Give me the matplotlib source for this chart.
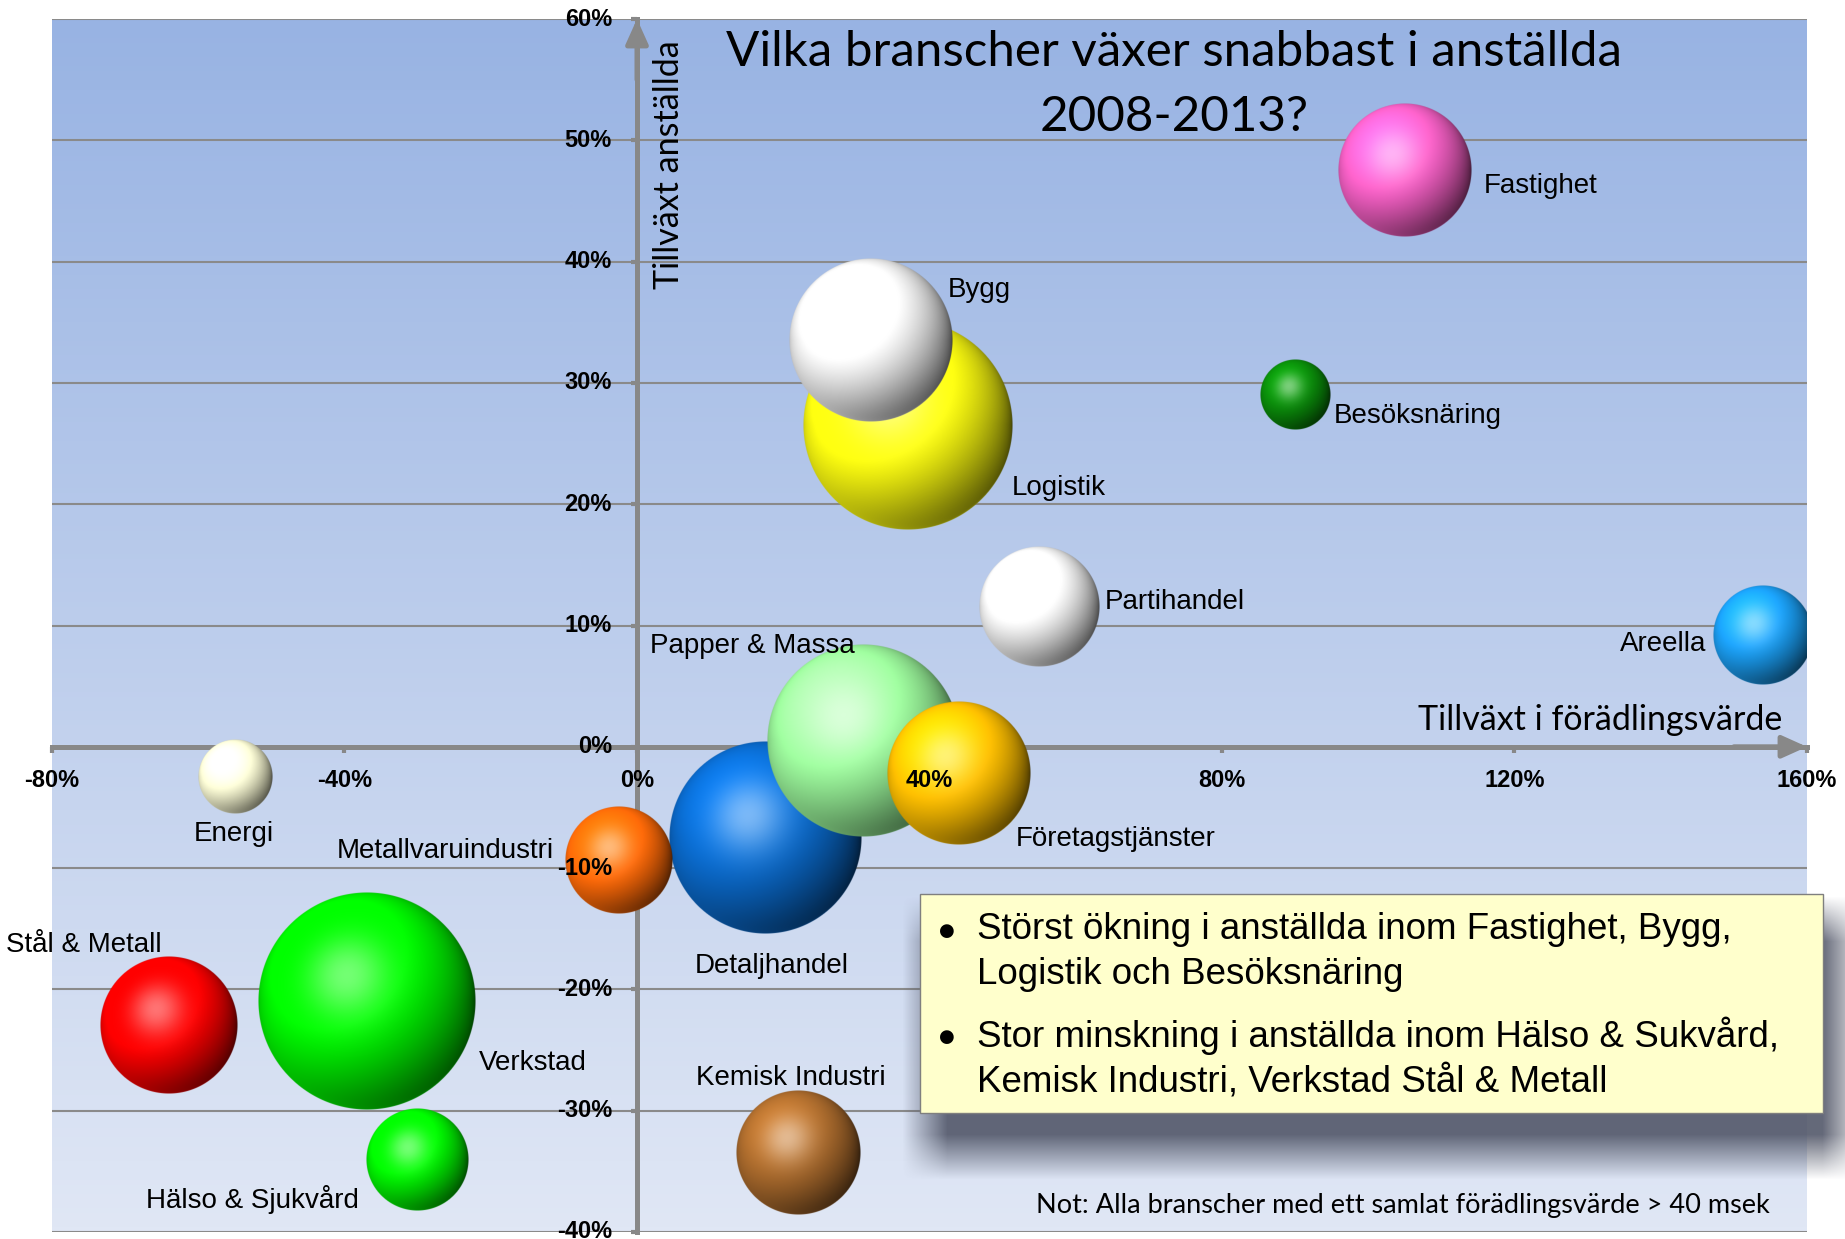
import numpy as np
import matplotlib
matplotlib.use("Agg")
import matplotlib.pyplot as plt
from matplotlib.patches import Rectangle
from matplotlib.colors import to_rgb, LinearSegmentedColormap

# data: growth in value added (x, %), growth in employees (y, %), bubble size
branscher = ["Fastighet", "Bygg", "Logistik", "Besöksnäring", "Partihandel", "Areella",
             "Papper & Massa", "Företagstjänster", "Detaljhandel", "Metallvaruindustri",
             "Energi", "Stål & Metall", "Verkstad", "Hälso & Sjukvård", "Kemisk Industri"]
foradling = [105, 32, 37, 90, 55, 154, 31, 44, 17.5, -2.5, -55, -64, -37, -30, 22]
anstallda = [47.5, 33.5, 26.5, 29, 11.5, 9.2, 0.5, -2.2, -7.5, -9.3, -2.5, -23, -21, -34, -33.5]
storlek = [32, 48, 79, 9, 26, 18, 67, 37, 67, 21, 10, 34, 85, 19, 28]

x_ticks = [-80, -40, 0, 40, 80, 120, 160]
y_ticks = [-40, -30, -20, -10, 0, 10, 20, 30, 40, 50, 60]

title = "Vilka branscher växer snabbast i anställda\n2008-2013?"
punkter = ["Störst ökning i anställda inom Fastighet, Bygg,\nLogistik och Besöksnäring",
           "Stor minskning i anställda inom Hälso & Sukvård,\nKemisk Industri, Verkstad Stål & Metall"]
not_text = "Not: Alla branscher med ett samlat förädlingsvärde > 40 msek"

# styles
farger = ["#f45fc4", "#f2f2f2", "#ffff10", "#0a8a0a", "#f4f4f4", "#1a9cf0",
          "#9af59a", "#ffc000", "#0a68c8", "#ff6a08", "#fcfcd6", "#ff0000",
          "#00f400", "#00f400", "#a8692c"]
# label offset (points) and alignment
etiketter = {
    "Fastighet": (57, -11, "left"),
    "Bygg": (55, 36, "left"),
    "Logistik": (75, -45, "left"),
    "Besöksnäring": (28, -15, "left"),
    "Partihandel": (47, 4, "left"),
    "Areella": (-41, -6, "right"),
    "Papper & Massa": (-80, 68, "center"),
    "Företagstjänster": (41, -47, "left"),
    "Detaljhandel": (5, -92, "center"),
    "Metallvaruindustri": (-47, 6, "right"),
    "Energi": (-1, -41, "center"),
    "Stål & Metall": (-61, 58, "center"),
    "Verkstad": (81, -44, "left"),
    "Hälso & Sjukvård": (-119, -29, "center"),
    "Kemisk Industri": (-5, 54, "center"),
}
GRID = "#8a8a8a"
AXC = "#888888"
W, H, DPI = 1845, 1239, 100


def sphere(color, n):
    t = np.linspace(-1, 1, n)
    u, v = np.meshgrid(t, t)
    r = np.sqrt(u ** 2 + v ** 2)
    z = np.sqrt(np.clip(1 - r ** 2, 0, 1))
    L = np.array([-0.35, 0.45, 0.82])
    L /= np.linalg.norm(L)
    ndl = u * L[0] + v * L[1] + z * L[2]
    diff = np.clip((ndl + 0.4) / 1.4, 0, 1)
    Hv = L + np.array([0, 0, 1.0])
    Hv /= np.linalg.norm(Hv)
    spec = np.clip(u * Hv[0] + v * Hv[1] + z * Hv[2], 0, 1) ** 14
    rim = np.clip(-v, 0, 1) * (1 - z) ** 2
    base = np.array(to_rgb(color))
    shade = 0.16 + 1.08 * diff + 0.5 * rim
    rgb = np.clip(base[None, None, :] * shade[..., None], 0, 1)
    rgb = rgb + (1 - rgb) * (0.45 * spec)[..., None]
    rgb = np.clip(rgb, 0, 1)
    a = np.clip((1 - r) * n / 2, 0, 1)
    return np.dstack([rgb, a])


fig = plt.figure(figsize=(W / DPI, H / DPI), dpi=DPI)
ax_l, ax_r, ax_t, ax_b = 52, 1807, 19, 1232
ax = fig.add_axes([ax_l / W, 1 - ax_b / H, (ax_r - ax_l) / W, (ax_b - ax_t) / H])

# background gradient
bg = LinearSegmentedColormap.from_list("bg", ["#e0e7f5", "#98b3e3"])
ax.imshow(np.linspace(0, 1, 256).reshape(-1, 1), cmap=bg, extent=[0, 1, 0, 1],
          transform=ax.transAxes, aspect="auto", origin="lower", zorder=0)

for yv in y_ticks:
    ax.axhline(yv, color=GRID, lw=1.5, zorder=1)

xmin, xmax, ymin, ymax = -80, 160, -40, 60
dx = (xmax - xmin) / (ax_r - ax_l)
dy = (ymax - ymin) / (ax_b - ax_t)

radier = [11.77 * np.sqrt(s) for s in storlek]  # pixels
ax.scatter(foradling, anstallda, s=[(2 * r * 0.72 * 0.95) ** 2 for r in radier],
           c=farger, linewidths=0, zorder=2.9)

order = np.argsort(storlek)[::-1]
for rank, i in enumerate(order):
    R = radier[i]
    n = int(R * 4)
    img = sphere(farger[i], n)
    x, y = foradling[i], anstallda[i]
    ax.imshow(img, extent=[x - R * dx, x + R * dx, y - R * dy, y + R * dy],
              origin="lower", aspect="auto", interpolation="antialiased", zorder=3 + rank * 0.1)

for i, namn in enumerate(branscher):
    ox, oy, ha = etiketter[namn]
    ax.annotate(namn, (foradling[i], anstallda[i]), xytext=(ox, oy), textcoords="offset points",
                ha=ha, va="center", fontsize=20, family="Liberation Sans", zorder=20)

ax.set_xlim(xmin, xmax)
ax.set_ylim(ymin, ymax)

for s in ["top", "right"]:
    ax.spines[s].set_visible(False)
for s in ["left", "bottom"]:
    ax.spines[s].set_position(("data", 0))
    ax.spines[s].set_color(AXC)
    ax.spines[s].set_linewidth(3.6)

# ticks under the bubbles, tick labels on top of them
ax.set_xticks(x_ticks)
ax.set_yticks(y_ticks)
ax.tick_params(axis="both", direction="out", length=4, width=3, color=AXC,
               labelbottom=False, labelleft=False)
ax.xaxis.set_zorder(2.6)
ax.yaxis.set_zorder(2.6)
tick_font = dict(fontsize=17, fontweight="bold", family="Liberation Sans", zorder=30)
for v in x_ticks:
    ax.annotate(f"{v}%", (v, 0), xytext=(0, -24), textcoords="offset points",
                ha="center", va="center", **tick_font)
for v in y_ticks:
    ax.annotate(f"{v}%", (0, v), xytext=(-18, 0), textcoords="offset points",
                ha="right", va="center", **tick_font)

arrow = dict(arrowstyle="-|>,head_length=1.0,head_width=0.45", color=AXC, lw=3.6,
             shrinkA=0, shrinkB=0, mutation_scale=15)
ax.annotate("", xy=(0, ymax), xytext=(0, ymax - 5), arrowprops=arrow, zorder=2.6)
ax.annotate("", xy=(xmax, 0), xytext=(xmax - 10, 0), arrowprops=arrow, zorder=2.6)

ax.text((669 - ax_l) / (ax_r - ax_l), 1 - (165 - ax_t) / (ax_b - ax_t),
        "Tillväxt anställda", transform=ax.transAxes, rotation=90, ha="center", va="center",
        fontsize=24.5, family="Lato", zorder=25)
ax.text((1782 - ax_l) / (ax_r - ax_l), 1 - (720 - ax_t) / (ax_b - ax_t),
        "Tillväxt i förädlingsvärde", transform=ax.transAxes, ha="right", va="center",
        fontsize=24.5, family="Lato", zorder=25)

fig.text(1174 / W, 1 - 84.5 / H, title, ha="center", va="center", fontsize=35.5, family="Lato",
         linespacing=1.59, zorder=40)
fig.text(1770 / W, 1 - 1206 / H, not_text, ha="right", va="center", fontsize=19.5,
         family="Lato", zorder=40)

# text box with blurred shadow
bx0, bx1, by0, by1 = 920, 1823, 894, 1113
sh = np.zeros((H, W))
sh[by0 + 25:by1 + 44, bx0 + 5:W] = 1.0
k = np.ones(45) / 45
sh = np.apply_along_axis(lambda c: np.convolve(c, k, mode="same"), 0, sh)
sh = np.apply_along_axis(lambda r: np.convolve(r, k, mode="same"), 1, sh)
shadow = np.zeros((H, W, 4))
shadow[..., 0] = 0.31
shadow[..., 1] = 0.33
shadow[..., 2] = 0.40
shadow[..., 3] = sh * 0.88
fig.figimage(shadow[::-1], xo=0, yo=0, zorder=5, origin="lower")
fig.patches.append(Rectangle((bx0 / W, 1 - by1 / H), (bx1 - bx0) / W, (by1 - by0) / H,
                             transform=fig.transFigure, facecolor="#ffffcc",
                             edgecolor="#7f7f7f", lw=1, zorder=6))
for para, cy in zip(punkter, [952, 1058]):
    fig.text(977 / W, 1 - cy / H, para, ha="left", va="center", fontsize=26.5,
             family="Liberation Sans", linespacing=1.38, zorder=7)
    fig.text(947 / W, 1 - (cy - 21) / H, "●", ha="center", va="center", fontsize=13,
             family="DejaVu Sans", zorder=7)

fig.savefig("out.png", dpi=DPI)
